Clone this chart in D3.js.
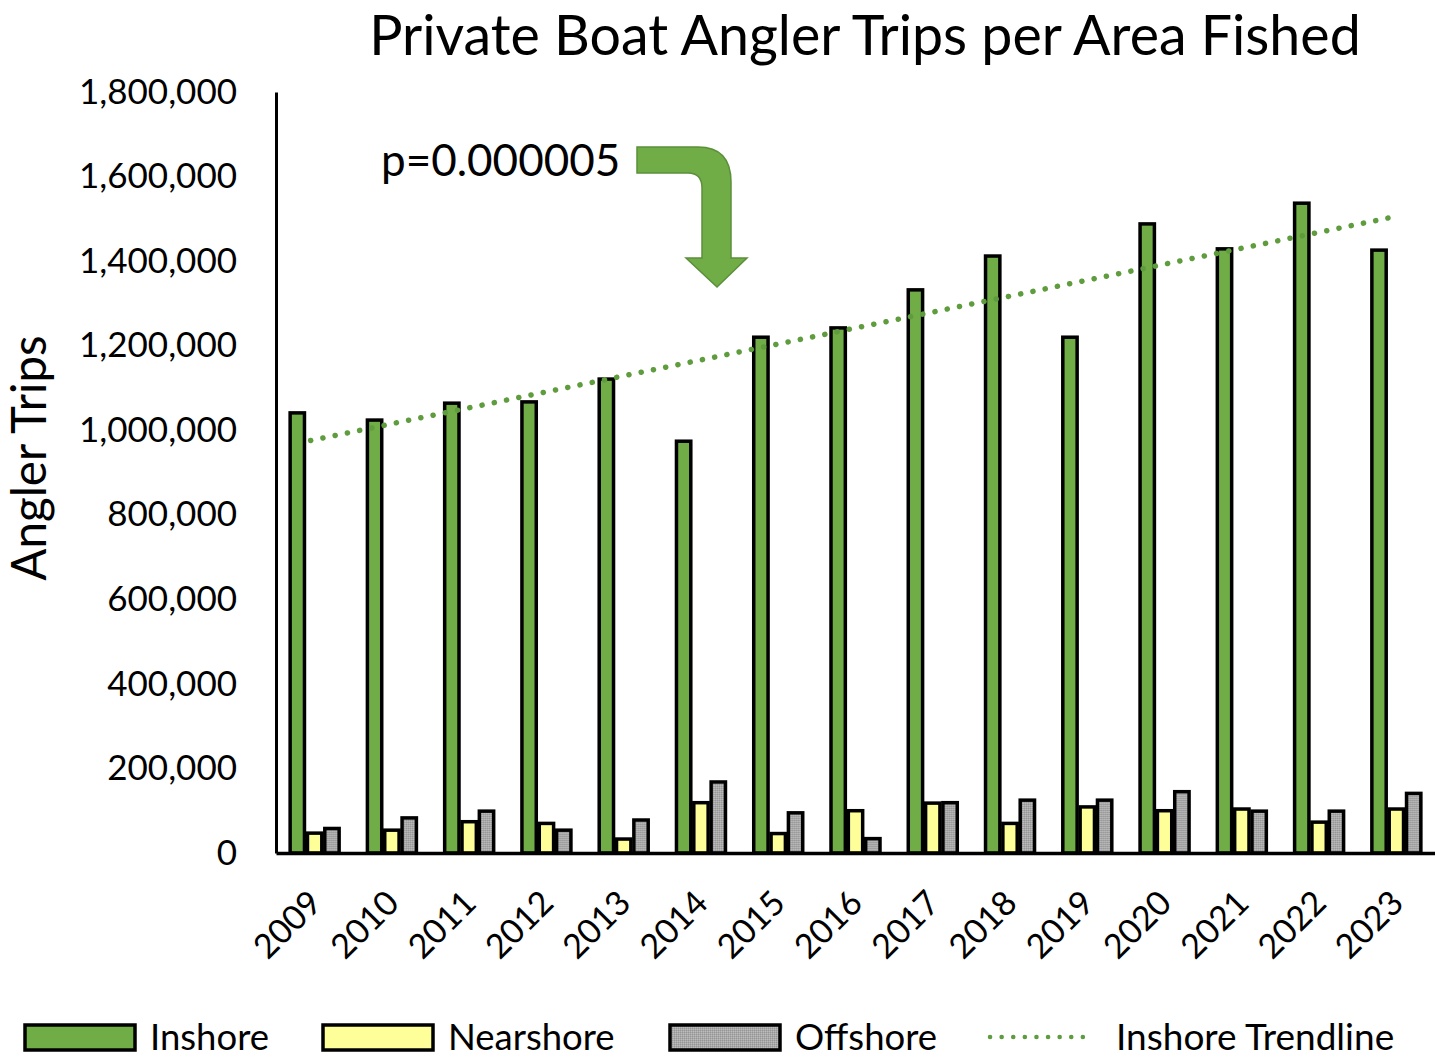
<!DOCTYPE html>
<html>
<head>
<meta charset="utf-8">
<script src="https://cdn.jsdelivr.net/npm/d3@7/dist/d3.min.js"></script>
<style>
  body { margin: 0; background: #fff; }
  text { font-family: Lato, "Noto Sans", sans-serif; fill: #000; }
</style>
</head>
<body>
<svg id="chart" width="1435" height="1060"></svg>
<script>
// values
const years = ["2009","2010","2011","2012","2013","2014","2015","2016","2017","2018","2019","2020","2021","2022","2023"];
const inshore   = [1041000,1024000,1064000,1067000,1121000,974000,1220000,1242000,1332000,1412000,1220000,1488000,1429000,1537000,1426000];
const nearshore = [47000,54000,74000,70000,33000,119000,46000,100000,118000,70000,109000,100000,104000,73000,104000];
const offshore  = [58000,83000,99000,54000,78000,168000,95000,34000,119000,125000,125000,145000,99000,99000,141000];
const yTicks = [0,200000,400000,600000,800000,1000000,1200000,1400000,1600000,1800000];
const seriesNames = ["Inshore","Nearshore","Offshore"];
const seriesColors = ["#70ad47","#ffff99","url(#greyTex)"];

const svg = d3.select("#chart");
const plotL = 276, plotR = 1435, plotT = 92, plotB = 853;

// grey bars have a fine dithered texture in the original
const pat = svg.append("defs").append("pattern")
    .attr("id", "greyTex").attr("width", 2).attr("height", 2)
    .attr("patternUnits", "userSpaceOnUse");
pat.append("rect").attr("width", 2).attr("height", 2).attr("fill", "#a9a9a9");
pat.append("rect").attr("width", 1).attr("height", 1).attr("fill", "#959595");
pat.append("rect").attr("x", 1).attr("y", 1).attr("width", 1).attr("height", 1).attr("fill", "#bcbcbc");

const x = d3.scaleBand().domain(years).range([plotL, plotR]);
const x1 = d3.scaleBand().domain(seriesNames).range([-26, 26]);
const y = d3.scaleLinear().domain([0, 1800000]).range([plotB, plotT]);

const rows = years.map((yr, i) => ({ year: yr, values: [inshore[i], nearshore[i], offshore[i]] }));

// title
svg.append("text")
    .attr("x", 865).attr("y", 55)
    .attr("text-anchor", "middle")
    .style("font-size", "55.5px")
    .text("Private Boat Angler Trips per Area Fished");

// y axis
const yAxis = d3.axisLeft(y).tickValues(yTicks).tickSize(0).tickPadding(39)
    .tickFormat(d3.format(","));
const gy = svg.append("g").attr("transform", `translate(${plotL},0)`).call(yAxis);
gy.select(".domain").attr("stroke", "#000").attr("stroke-width", 3);
gy.selectAll("text").style("font-size", "35px").style("font-family", "Lato, sans-serif").attr("fill", "#000");

svg.append("text")
    .attr("transform", "translate(46,458) rotate(-90)")
    .attr("text-anchor", "middle")
    .style("font-size", "47.5px")
    .text("Angler Trips");

// bars
const groups = svg.append("g").selectAll("g")
    .data(rows).join("g")
    .attr("transform", d => `translate(${x(d.year) + x.bandwidth() / 2},0)`);

groups.selectAll("rect")
    .data(d => d.values.map((v, k) => ({ v, k })))
    .join("rect")
    .attr("x", d => x1(seriesNames[d.k]) + 1.5)
    .attr("width", x1.bandwidth() - 3)
    .attr("y", d => y(d.v))
    .attr("height", d => y(0) - y(d.v))
    .attr("fill", d => seriesColors[d.k])
    .attr("stroke", "#000")
    .attr("stroke-width", 3.5);

// x axis
const xAxis = d3.axisBottom(x).tickSize(0).tickFormat("");
const gx = svg.append("g").attr("transform", `translate(0,${plotB})`).call(xAxis);
gx.select(".domain").attr("stroke", "#000").attr("stroke-width", 3.5);

svg.append("g").selectAll("text")
    .data(years).join("text")
    .attr("transform", d => `translate(${x(d) + x.bandwidth() / 2 + 9},${plotB + 52}) rotate(-45)`)
    .attr("text-anchor", "end")
    .style("font-size", "34px")
    .text(d => d);

// linear trendline for inshore (least squares over the year index)
const idx = years.map((_, i) => i);
const mx = d3.mean(idx), my = d3.mean(inshore);
const slope = d3.sum(idx, i => (i - mx) * (inshore[i] - my)) / d3.sum(idx, i => (i - mx) ** 2);
const icpt = my - slope * mx;
const trend = [0, years.length - 1].map(i => [x(years[i]) + x.bandwidth() / 2 - 4, y(icpt + slope * i)]);

svg.append("path")
    .attr("d", d3.line()(trend))
    .attr("fill", "none")
    .attr("stroke", "#5f9c3d")
    .attr("stroke-width", 5.5)
    .attr("stroke-linecap", "round")
    .attr("stroke-dasharray", "0.1 12.4");

// annotation
svg.append("text")
    .attr("x", 381).attr("y", 176)
    .style("font-size", "44px")
    .text("p=0.000005");

svg.append("path")
    .attr("d", "M637,147 L698,147 Q731,147 731,182 L731,258 L747,258 L717,287 L686,258 L702,258 L702,188 Q702,173 688,173 L637,173 Z")
    .attr("fill", "#70ad47")
    .attr("stroke", "#5b8f3a")
    .attr("stroke-width", 1.5);

// legend
const legend = svg.append("g");
const legX = [25, 323, 670];
seriesNames.forEach((name, k) => {
  legend.append("rect")
      .attr("x", legX[k]).attr("y", 1025)
      .attr("width", 110).attr("height", 25)
      .attr("fill", seriesColors[k])
      .attr("stroke", "#000").attr("stroke-width", 3.5);
  legend.append("text")
      .attr("x", legX[k] + 125).attr("y", 1050)
      .style("font-size", "36.5px")
      .text(name);
});
legend.append("line")
    .attr("x1", 990).attr("x2", 1094).attr("y1", 1037).attr("y2", 1037)
    .attr("stroke", "#5f9c3d").attr("stroke-width", 4.5)
    .attr("stroke-linecap", "round").attr("stroke-dasharray", "0.1 11.5");
legend.append("text")
    .attr("x", 1116).attr("y", 1050)
    .style("font-size", "37px")
    .text("Inshore Trendline");
</script>
</body>
</html>
